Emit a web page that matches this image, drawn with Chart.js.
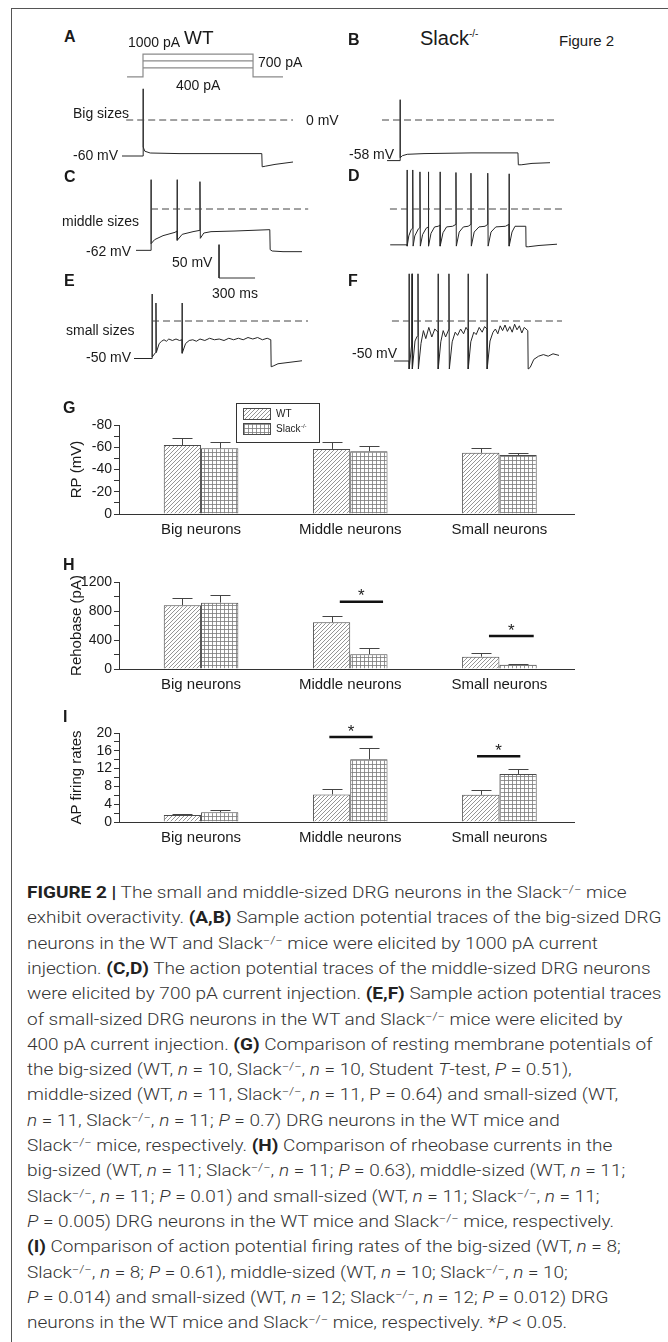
<!DOCTYPE html>
<html>
<head>
<meta charset="utf-8">
<script src="https://cdn.jsdelivr.net/npm/chart.js@4.4.1/dist/chart.umd.min.js"></script>
<style>
  html, body { margin: 0; padding: 0; background: #fff; }
  #fig { position: relative; width: 668px; height: 1342px; overflow: hidden;
         font-family: "Liberation Sans", Arial, sans-serif; color: #1a1a1a; }
  #frame { position: absolute; left: 11px; top: 8px; width: 700px; height: 1400px;
           border-left: 1.5px solid #555; border-top: 1.5px solid #555; }
  canvas { position: absolute; }
  .t { position: absolute; white-space: nowrap; line-height: 1; transform: translateY(-50%); }
  .t sup { font-size: 0.5em; vertical-align: 0.8em; line-height: 0; }
  .cap { position: absolute; left: 27px; white-space: nowrap; line-height: 18px;
         font-family: Roboto, "Liberation Sans", sans-serif; font-size: 16px; font-weight: 300;
         color: #333; transform-origin: 0 50%; }
  .cap b { font-weight: 700; color: #222; }
  .cap sup { font-size: 0.68em; vertical-align: 0.45em; line-height: 0; }
</style>
</head>
<body>
<div id="fig"><div id="frame"></div></div>
<script>
// ---------- data ----------
const categories = ["Big neurons", "Middle neurons", "Small neurons"];

// G: resting potential (mV)
const rpWT = [-62, -58.5, -55];
const rpKO = [-59, -56.5, -53];
const rpWTse = [6.5, 6.3, 4];
const rpKOse = [5.4, 4.4, 1.8];
const rpTicks = [0, -10, -20, -30, -40, -50, -60, -70, -80];
const rpLabels = [0, -20, -40, -60, -80];

// H: rheobase (pA)
const rheoWT = [880, 645, 170];
const rheoKO = [915, 205, 58];
const rheoWTse = [105, 85, 50];
const rheoKOse = [110, 85, 12];
const rheoTicks = [0, 200, 400, 600, 800, 1000, 1200];
const rheoLabels = [0, 400, 800, 1200];
const rheoSig = [[0.93, 1.22, 928], [1.93, 2.23, 455]];

// I: AP firing rates
const apWT = [1.6, 6.2, 6.1];
const apKO = [2.2, 14.1, 10.8];
const apWTse = [0.2, 1.2, 1.1];
const apKOse = [0.4, 2.6, 1.1];
const apTicks = [0, 2, 4, 6, 8, 10, 12, 14, 16, 18, 20];
const apLabels = [0, 4, 8, 12, 16, 20];
const apSig = [[0.86, 1.15, 19.1], [1.85, 2.14, 14.8]];

// stimulus steps (pA) and timing (ms)
const stimSteps = [1000, 700, 400];
const stimOn = 0, stimOff = 917, stimPre = -133, stimPost = 1167;

// voltage traces [time ms, mV]
const traceA = [[-175,-60],[0,-60],[0,52],[3,-45],[15,-52],[60,-55],[300,-56],[700,-56],[990,-56],
  [993,-78],[1020,-77],[1100,-74],[1250,-70]];
const traceB = [[-108,-58],[0,-58],[0,29],[3,-54],[20,-51],[60,-49],[200,-48],[600,-47],[983,-47],
  [986,-64],[1010,-64],[1100,-62],[1250,-61]];
const traceC = [[-125,-62],[0,-62],[0,44],[2,-52],[30,-46],[100,-40],[200,-35],[217,-33],
  [217,44],[220,-47],[260,-38],[350,-34],[408,-32],
  [408,41],[411,-44],[440,-36],[500,-34],[700,-33],[990,-31],
  [993,-61],[1010,-63],[1100,-64],[1258,-64]];
const traceD = [[-140,-56],[0,-56],
  [0,61],[3,-58],[15,-42],[35,-32],[48,-30],
  [48,61],[51,-58],[65,-42],[95,-31],[108,-29],
  [108,58],[111,-58],[130,-40],[160,-30],[178,-28],
  [178,58],[181,-58],[200,-38],[230,-28],[260,-27],[275,-25],
  [275,58],[278,-58],[300,-37],[330,-28],[380,-27],[408,-24],
  [408,57],[411,-58],[435,-36],[470,-28],[510,-27],[533,-24],
  [533,56],[536,-58],[560,-36],[600,-28],[650,-27],[673,-24],
  [673,56],[676,-58],[700,-36],[740,-28],[820,-27],[850,-24],
  [850,55],[853,-58],[875,-36],[900,-27],[990,-27],
  [992,-59],[1010,-59],[1100,-57],[1250,-55]];
const traceE = [[-150,-50],[0,-50],[0,36],[3,-48],[30,-42],[33,24],[36,-42],[60,-30],[80,-27],
  [100,-25],[120,-27],[140,-24],[170,-26],[200,-24],[230,-26],[250,-25],
  [250,24],[253,-43],[280,-30],[310,-26],[340,-25],[370,-27],[400,-24],[440,-26],[480,-23],
  [520,-25],[560,-24],[600,-26],[640,-23],[680,-25],[720,-23],[760,-25],[800,-22],[840,-24],
  [880,-22],[920,-25],[960,-23],[990,-25],
  [993,-61],[1010,-60],[1050,-57],[1150,-55],[1250,-53]];
const traceF = [[-125,-50],[0,-50],
  [0,59],[3,-60],[22,-30],[25,59],[28,-60],[50,-25],[65,-20],[75,-18],
  [75,59],[78,-60],[100,-28],[120,-12],[140,-22],[165,-8],[190,-20],[215,-10],[242,-14],
  [242,59],[245,-60],[265,-26],[285,-12],[305,-20],[333,-10],
  [333,59],[336,-60],[360,-26],[385,-14],[405,-18],[430,-10],[455,-16],[475,-8],[492,-12],
  [492,59],[495,-60],[515,-26],[540,-14],[560,-17],[585,-8],[610,-14],[630,-7],[650,-10],
  [650,59],[653,-60],[675,-25],[700,-14],[720,-10],[740,-16],[760,-6],[780,-12],[800,-5],
  [820,-13],[840,-7],[860,-14],[880,-4],[900,-11],[920,-6],[940,-15],[960,-8],[990,-12],
  [993,-60],[1010,-58],[1040,-48],[1080,-44],[1120,-42],[1160,-44],[1200,-41],[1250,-43]];

// 0 mV reference spans [from, to] ms
const zeroA = [-140, 1250], zeroB = [-150, 1308], zeroC = [0, 1310];
const zeroD = [-142, 1292], zeroE = [0, 1300], zeroF = [-142, 1275];

// scale bar: 300 ms x 50 mV
const barMs = 300, barMv = 50;

const FONT = '"Liberation Sans", Arial, sans-serif';
const fig = document.getElementById("fig");

function makeCanvas(id, box) {
  const c = document.createElement("canvas");
  c.id = id;
  c.width = box[2];
  c.height = box[3];
  c.style.left = box[0] + "px";
  c.style.top = box[1] + "px";
  c.style.width = box[2] + "px";
  c.style.height = box[3] + "px";
  fig.appendChild(c);
  return c;
}

function text(html, x, y, size, bold) {
  const d = document.createElement("div");
  d.className = "t";
  d.innerHTML = html;
  d.style.left = x + "px";
  d.style.top = y + "px";
  d.style.fontSize = size + "px";
  if (bold) d.style.fontWeight = "bold";
  fig.appendChild(d);
}

/* =========================
   TRACE PANELS
========================= */

function line(pts, opts) {
  return Object.assign({
    data: pts.map(p => ({ x: p[0], y: p[1] })),
    showLine: true, borderColor: "#262626", borderWidth: 1,
    pointRadius: 0, pointHoverRadius: 0, tension: 0, clip: false
  }, opts || {});
}

function dashed(span) {
  return line([[span[0], 0], [span[1], 0]], { borderColor: "#444", borderDash: [7, 4] });
}

function traceChart(id, box, xr, yr, sets) {
  new Chart(makeCanvas(id, box), {
    type: "scatter",
    data: { datasets: sets },
    options: {
      responsive: false, animation: false, events: [],
      layout: { padding: 0 },
      plugins: { legend: { display: false }, tooltip: { enabled: false } },
      scales: {
        x: { type: "linear", display: false, min: xr[0], max: xr[1] },
        y: { type: "linear", display: false, min: yr[0], max: yr[1] }
      }
    }
  });
}

const span = [-400, 1350];

const stimSets = stimSteps.map((pa, i) => {
  const pts = i === 0
    ? [[stimPre, 0], [stimOn, 0], [stimOn, pa], [stimOff, pa], [stimOff, 0], [stimPost, 0]]
    : [[stimOn, pa], [stimOff, pa]];
  return line(pts, { borderColor: "#8a8a8a", borderWidth: 1.2 });
});
traceChart("stim", [95, 45, 210, 41], span, [-400, 1400], stimSets);

traceChart("pA", [95, 78, 210, 96], span, [-90, 70], [dashed(zeroA), line(traceA)]);
traceChart("pB", [352, 78, 210, 105], span, [-90, 60], [dashed(zeroB), line(traceB)]);

const scaleBar = [[567, -53.5], [567, -53.5 - barMv], [567 + barMs, -53.5 - barMv]];
traceChart("pC", [103, 175, 210, 110], span, [-114, 51],
  [dashed(zeroC), line(traceC), line(scaleBar, { borderColor: "#333" })]);
traceChart("pD", [359, 161, 210, 96], span, [-75, 75], [dashed(zeroD), line(traceD)]);
traceChart("pE", [104, 276, 210, 105], span, [-80, 60], [dashed(zeroE), line(traceE)]);
traceChart("pF", [361, 265, 210, 112], span, [-70, 70], [dashed(zeroF), line(traceF)]);

/* =========================
   BAR PANELS
========================= */

function pattern(kind) {
  const c = document.createElement("canvas");
  c.width = c.height = 4;
  const g = c.getContext("2d");
  g.fillStyle = "#fff";
  g.fillRect(0, 0, 4, 4);
  g.strokeStyle = "#7a7a7a";
  g.lineWidth = 0.8;
  g.beginPath();
  if (kind === "diag") {
    g.moveTo(0, 4); g.lineTo(4, 0);
    g.moveTo(-1, 1); g.lineTo(1, -1);
    g.moveTo(3, 5); g.lineTo(5, 3);
  } else {
    g.moveTo(0, 0.5); g.lineTo(4, 0.5);
    g.moveTo(0.5, 0); g.lineTo(0.5, 4);
  }
  g.stroke();
  return g.createPattern(c, "repeat");
}
const wtFill = pattern("diag");
const koFill = pattern("grid");

const errorBars = {
  id: "errorBars",
  afterDatasetsDraw(chart) {
    const { ctx } = chart;
    const y = chart.scales.y;
    ctx.save();
    ctx.strokeStyle = "#444";
    ctx.lineWidth = 1;
    chart.data.datasets.forEach((ds, di) => {
      chart.getDatasetMeta(di).data.forEach((bar, i) => {
        const v = ds.data[i].y;
        const top = y.getPixelForValue(v < 0 ? v - ds.se[i] : v + ds.se[i]);
        const bx = Math.round(bar.x) + 0.5;
        const ty = Math.round(top) + 0.5;
        ctx.beginPath();
        ctx.moveTo(bx, bar.y);
        ctx.lineTo(bx, ty);
        ctx.moveTo(bx - 10, ty);
        ctx.lineTo(bx + 10, ty);
        ctx.stroke();
      });
    });
    ctx.restore();
  }
};

const sigMarks = {
  id: "sigMarks",
  afterDatasetsDraw(chart, args, opts) {
    if (!opts.lines) return;
    const { ctx } = chart;
    const { x, y } = chart.scales;
    ctx.save();
    ctx.strokeStyle = "#111";
    ctx.lineWidth = 2.5;
    ctx.fillStyle = "#222";
    ctx.font = "17px " + FONT;
    ctx.textAlign = "center";
    ctx.textBaseline = "middle";
    opts.lines.forEach(([x1, x2, v]) => {
      const py = y.getPixelForValue(v);
      const a = x.getPixelForValue(x1), b = x.getPixelForValue(x2);
      ctx.beginPath();
      ctx.moveTo(a, py);
      ctx.lineTo(b, py);
      ctx.stroke();
      ctx.fillText("*", (a + b) / 2, py - 5);
    });
    ctx.restore();
  }
};

const legendBox = {
  id: "legendBox",
  afterDraw(chart, args, opts) {
    if (!opts.show) return;
    const { ctx } = chart;
    ctx.save();
    ctx.fillStyle = "#fff";
    ctx.fillRect(172.5, 3.5, 83, 39);
    ctx.strokeStyle = "#333";
    ctx.lineWidth = 1;
    ctx.strokeRect(172.5, 3.5, 83, 39);
    chart.data.datasets.forEach((ds, i) => {
      const y0 = 8.5 + i * 15;
      ctx.fillStyle = ds.backgroundColor;
      ctx.fillRect(179.5, y0, 27, 11);
      ctx.strokeStyle = "#4a4a4a";
      ctx.strokeRect(179.5, y0, 27, 11);
      ctx.fillStyle = "#1a1a1a";
      ctx.font = "10px " + FONT;
      ctx.textAlign = "left";
      ctx.textBaseline = "middle";
      ctx.fillText(ds.label, 212, y0 + 6);
      if (ds.sup) {
        const w = ctx.measureText(ds.label).width;
        ctx.font = "6px " + FONT;
        ctx.fillText(ds.sup, 212 + w + 0.5, y0 + 2.5);
      }
    });
    ctx.restore();
  }
};

function barChart(id, box, cfg) {
  const set = (label, sup, vals, se, fill) => ({
    label, sup, se,
    data: vals.map((v, i) => ({ x: i, y: v })),
    backgroundColor: fill, borderColor: "#4a4a4a", borderWidth: 1,
    categoryPercentage: 0.5, barPercentage: 1
  });
  new Chart(makeCanvas(id, box), {
    type: "bar",
    data: {
      datasets: [
        set("WT", "", cfg.wt, cfg.wtSe, wtFill),
        set("Slack", "-/-", cfg.ko, cfg.koSe, koFill)
      ]
    },
    options: {
      responsive: false, animation: false, events: [],
      layout: { padding: { top: 25, right: 16, left: 0, bottom: 0 } },
      plugins: {
        legend: { display: false }, tooltip: { enabled: false },
        sigMarks: { lines: cfg.sig }, legendBox: { show: !!cfg.legend }
      },
      scales: {
        x: {
          type: "linear", min: -0.55, max: 2.5, offset: false,
          afterBuildTicks: s => { s.ticks = categories.map((c, i) => ({ value: i })); },
          afterFit: s => { s.height = 26; },
          grid: { display: false, drawTicks: false },
          border: { display: true, color: "#333", width: 1 },
          ticks: { callback: v => categories[v], color: "#1a1a1a", padding: 7,
                   maxRotation: 0, autoSkip: false, font: { size: 15, family: FONT } }
        },
        y: {
          type: "linear", min: cfg.min, max: cfg.max, reverse: !!cfg.reverse,
          afterBuildTicks: s => { s.ticks = cfg.ticks.map(v => ({ value: v })); },
          afterFit: s => { s.width = 55; },
          grid: { drawOnChartArea: false, drawTicks: true, tickLength: 5, color: "#333" },
          border: { display: true, color: "#333", width: 1 },
          ticks: { callback: v => cfg.labels.includes(v) ? String(v) : "", color: "#1a1a1a",
                   padding: 2, autoSkip: false, font: { size: 14, family: FONT } },
          title: { display: true, text: cfg.title, color: "#1a1a1a",
                   font: { size: 15, family: FONT }, padding: { top: 4, bottom: 0 } }
        }
      }
    },
    plugins: [errorBars, sigMarks, legendBox]
  });
}

barChart("gChart", [64, 400, 526, 140], {
  wt: rpWT, ko: rpKO, wtSe: rpWTse, koSe: rpKOse, min: -80, max: 0, reverse: true,
  ticks: rpTicks, labels: rpLabels, title: "RP (mV)", legend: true
});
barChart("hChart", [64, 557, 526, 138], {
  wt: rheoWT, ko: rheoKO, wtSe: rheoWTse, koSe: rheoKOse, min: 0, max: 1200,
  ticks: rheoTicks, labels: rheoLabels, title: "Rehobase (pA)", sig: rheoSig
});
barChart("iChart", [64, 708, 526, 140], {
  wt: apWT, ko: apKO, wtSe: apWTse, koSe: apKOse, min: 0, max: 20,
  ticks: apTicks, labels: apLabels, title: "AP firing rates", sig: apSig
});

/* =========================
   LABELS
========================= */

text("A", 64, 37, 16, true);
text("1000 pA", 128, 42, 14);
text("WT", 184, 37, 19);
text("700 pA", 258, 62, 14);
text("400 pA", 176, 85, 14);
text("Big sizes", 73, 113, 14);
text("0 mV", 306, 120, 14);
text("-60 mV", 73, 155, 14);
text("B", 348, 40, 16, true);
text("Slack<sup>-/-</sup>", 420, 38, 20);
text("Figure 2", 559, 40, 15);
text("-58 mV", 349, 154, 14);
text("C", 64, 177, 16, true);
text("D", 348, 176, 16, true);
text("middle sizes", 62, 221, 14);
text("-62 mV", 86, 251, 14);
text("50 mV", 172, 262, 14);
text("300 ms", 212, 293, 14);
text("E", 64, 281, 16, true);
text("F", 348, 281, 16, true);
text("small sizes", 66, 330, 14);
text("-50 mV", 86, 357, 14);
text("-50 mV", 352, 353, 14);
text("G", 63, 408, 16, true);
text("H", 63, 565, 16, true);
text("I", 63, 717, 16, true);

/* =========================
   CAPTION
========================= */

const S = "Slack<sup>&minus;/&minus;</sup>";
const captionLines = [
  "<b>FIGURE 2 |</b> The small and middle-sized DRG neurons in the " + S + " mice",
  "exhibit overactivity. <b>(A,B)</b> Sample action potential traces of the big-sized DRG",
  "neurons in the WT and " + S + " mice were elicited by 1000 pA current",
  "injection. <b>(C,D)</b> The action potential traces of the middle-sized DRG neurons",
  "were elicited by 700 pA current injection. <b>(E,F)</b> Sample action potential traces",
  "of small-sized DRG neurons in the WT and " + S + " mice were elicited by",
  "400 pA current injection. <b>(G)</b> Comparison of resting membrane potentials of",
  "the big-sized (WT, <i>n</i> = 10, " + S + ", <i>n</i> = 10, Student <i>T</i>-test, <i>P</i> = 0.51),",
  "middle-sized (WT, <i>n</i> = 11, " + S + ", <i>n</i> = 11, P = 0.64) and small-sized (WT,",
  "<i>n</i> = 11, " + S + ", <i>n</i> = 11; <i>P</i> = 0.7) DRG neurons in the WT mice and",
  S + " mice, respectively. <b>(H)</b> Comparison of rheobase currents in the",
  "big-sized (WT, <i>n</i> = 11; " + S + ", <i>n</i> = 11; <i>P</i> = 0.63), middle-sized (WT, <i>n</i> = 11;",
  S + ", <i>n</i> = 11; <i>P</i> = 0.01) and small-sized (WT, <i>n</i> = 11; " + S + ", <i>n</i> = 11;",
  "<i>P</i> = 0.005) DRG neurons in the WT mice and " + S + " mice, respectively.",
  "<b>(I)</b> Comparison of action potential firing rates of the big-sized (WT, <i>n</i> = 8;",
  S + ", <i>n</i> = 8; <i>P</i> = 0.61), middle-sized (WT, <i>n</i> = 10; " + S + ", <i>n</i> = 10;",
  "<i>P</i> = 0.014) and small-sized (WT, <i>n</i> = 12; " + S + ", <i>n</i> = 12; <i>P</i> = 0.012) DRG",
  "neurons in the WT mice and " + S + " mice, respectively. *<i>P</i> &lt; 0.05."
];
// right edge of each caption line in the reference
const captionEnds = [638, 656, 568, 652, 656, 571, 635, 562, 547, 568, 622, 647, 631, 643, 631, 605, 630, 576];

const capDivs = captionLines.map((html, i) => {
  const d = document.createElement("div");
  d.className = "cap";
  d.innerHTML = html;
  d.style.top = (893 + i * 25.3 - 9) + "px";
  fig.appendChild(d);
  return d;
});
let want = 0, have = 0;
capDivs.forEach((d, i) => {
  want += captionEnds[i] - 27;
  have += d.getBoundingClientRect().width;
});
capDivs.forEach(d => { d.style.transform = "scaleX(" + (want / have).toFixed(4) + ")"; });
</script>
</body>
</html>
